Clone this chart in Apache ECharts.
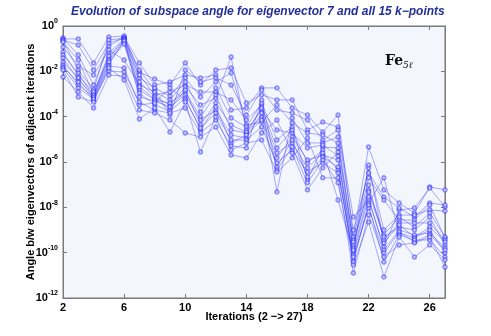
<!DOCTYPE html>
<html>
<head>
<meta charset="utf-8">
<title>Subspace angle evolution</title>
<script src="https://cdn.jsdelivr.net/npm/echarts@6/dist/echarts.min.js"></script>
<style>
  html, body { margin: 0; padding: 0; background: #fff; }
  #chart { width: 491px; height: 336px; }
</style>
</head>
<body>
<div id="chart"></div>
<script>
// iterations on the x axis
const iterations = [2, 3, 4, 5, 6, 7, 8, 9, 10, 11, 12, 13, 14, 15, 16, 17, 18, 19, 20, 21, 22, 23, 24, 25, 26, 27];

// log10 of the angle, one array per k-point
const kp1  = [-0.53, -1.28, -2.6, -0.88, -0.49, -1.63, -2.6, -2.47, -2.16, -2.29, -2.16, -3.71, -3.62, -2.73, -2.73, -3.62, -3.93, -4.68, -3.93, -9.31, -5.34, -7.23, -7.81, -8.25, -7.1, -7.23];
const kp2  = [-0.57, -0.57, -1.63, -0.49, -0.44, -2.03, -2.34, -2.6, -1.63, -2.6, -1.94, -1.85, -3.4, -3.04, -3.26, -3.26, -4.59, -4.24, -4.46, -8.43, -7.68, -9.75, -8.12, -8.03, -7.15, -7.98];
const kp3  = [-0.62, -0.84, -1.94, -0.75, -0.53, -1.94, -2.82, -3.93, -1.94, -2.47, -2.29, -2.6, -3.93, -2.82, -3.71, -3.84, -4.15, -5.03, -4.59, -9.0, -6.48, -7.54, -8.03, -8.43, -7.81, -7.9];
const kp4  = [-0.66, -1.94, -2.82, -0.62, -0.53, -2.29, -2.73, -3.09, -2.29, -3.13, -2.47, -2.07, -4.37, -4.24, -3.48, -4.28, -4.72, -4.81, -5.16, -9.44, -6.26, -9.0, -8.34, -8.34, -8.12, -8.16];
const kp5  = [-0.71, -1.5, -3.0, -1.19, -0.57, -2.16, -3.04, -2.91, -2.6, -2.91, -2.91, -3.26, -4.15, -3.48, -7.32, -4.06, -5.16, -5.16, -4.9, -9.66, -6.7, -7.68, -8.56, -8.56, -7.9, -9.35];
const kp6  = [-0.93, -1.76, -2.16, -1.06, -1.5, -2.6, -2.91, -3.26, -2.47, -3.79, -2.73, -4.06, -4.46, -3.4, -5.03, -4.46, -6.79, -5.34, -5.38, -9.53, -7.23, -9.22, -8.43, -8.87, -8.25, -9.31];
const kp7  = [-1.15, -2.21, -2.91, -1.41, -0.62, -2.47, -3.13, -3.48, -2.69, -3.48, -3.18, -1.37, -4.59, -3.71, -4.59, -4.72, -5.38, -5.25, -5.73, -9.79, -7.01, -9.44, -8.69, -8.69, -8.69, -9.44];
const kp8  = [-1.28, -2.07, -3.09, -1.32, -0.62, -2.82, -3.26, -3.4, -2.91, -4.01, -3.04, -4.59, -4.72, -3.62, -5.38, -4.59, -6.04, -5.47, -7.68, -9.97, -7.32, -9.31, -8.87, -9.0, -8.43, -9.66];
const kp9  = [-1.41, -2.38, -3.04, -1.5, -0.71, -2.69, -3.22, -3.66, -2.82, -4.37, -3.4, -4.37, -4.68, -4.01, -5.82, -4.9, -5.91, -5.69, -5.91, -9.88, -6.13, -9.57, -8.78, -9.31, -8.87, -9.53];
const kp10 = [-1.59, -2.29, -3.18, -1.68, -0.66, -3.13, -3.31, -3.57, -3.04, -4.15, -3.71, -4.81, -4.94, -3.84, -5.6, -5.16, -6.26, -5.6, -6.35, -10.1, -7.54, -9.88, -9.0, -9.22, -9.13, -9.79];
const kp11 = [-1.72, -2.6, -3.13, -1.59, -0.79, -2.96, -3.48, -3.75, -3.18, -4.59, -3.57, -5.16, -4.81, -4.15, -6.22, -5.03, -6.66, -5.78, -6.22, -10.32, -7.81, -6.7, -9.13, -9.35, -9.0, -10.01];
const kp12 = [-1.81, -2.47, -3.26, -1.76, -1.85, -3.48, -3.4, -2.73, -3.26, -4.5, -3.84, -5.03, -5.03, -4.46, -6.04, -5.47, -6.44, -6.04, -6.48, -10.19, -8.03, -10.01, -9.09, -9.53, -9.22, -9.88];
const kp13 = [-1.85, -2.73, -3.22, -1.99, -2.03, -3.35, -3.71, -3.84, -3.62, -4.72, -4.15, -5.29, -5.38, -3.26, -6.35, -5.34, -6.92, -5.91, -6.92, -10.41, -7.9, -10.41, -9.22, -9.44, -9.44, -10.19];
const kp14 = [-1.94, -3.13, -3.35, -1.85, -2.38, -4.1, -3.62, -4.68, -3.35, -5.56, -4.01, -5.47, -5.16, -5.03, -6.44, -5.82, -4.94, -6.7, -6.7, -10.9, -8.34, -10.19, -9.66, -9.57, -9.31, -10.63];
const kp15 = [-2.25, -2.91, -3.62, -2.16, -2.21, -3.71, -3.84, -4.15, -4.72, -4.9, -4.46, -5.69, -5.82, -4.72, -4.15, -5.6, -7.23, -6.26, -5.56, -10.54, -8.65, -11.07, -9.31, -10.19, -9.66, -10.32];

const kpoints = [kp1, kp2, kp3, kp4, kp5, kp6, kp7, kp8, kp9, kp10, kp11, kp12, kp13, kp14, kp15];

const chart = echarts.init(document.getElementById('chart'));

const lineBlue = 'rgba(35, 35, 255, 0.5)';
const axisGray = '#7a7a7a';

function powLabel(v) {
  const e = Math.round(Math.log10(v));
  return '{b|10}{e|' + (e === 0 ? '0' : '-' + Math.abs(e)) + '}';
}

const series = kpoints.map((arr, i) => ({
  name: 'k' + (i + 1),
  type: 'line',
  data: arr.map((e, j) => [iterations[j], Math.pow(10, e)]),
  symbol: 'emptyCircle',
  symbolSize: 3.5,
  lineStyle: { color: lineBlue, width: 0.75 },
  itemStyle: { color: lineBlue, borderColor: lineBlue, borderWidth: 0.7 },
  emphasis: { disabled: true },
  z: 3
}));

chart.setOption({
  animation: false,
  grid: {
    left: 63, right: 46, top: 26, bottom: 38,
    show: true,
    backgroundColor: '#f3f6fc',
    borderColor: axisGray,
    borderWidth: 1
  },
  xAxis: [{
    type: 'value',
    min: 2, max: 27, interval: 4,
    name: 'Iterations (2 \u2212> 27)',
    nameLocation: 'middle',
    nameGap: 13,
    nameMoveOverlap: false,
    nameTextStyle: { fontFamily: 'Liberation Sans', fontWeight: 'bold', fontSize: 11, color: '#000', verticalAlign: 'top' },
    axisLine: { lineStyle: { color: axisGray } },
    axisTick: { inside: true, length: 4, lineStyle: { color: axisGray } },
    axisLabel: { fontFamily: 'Liberation Sans', fontWeight: 'bold', fontSize: 11, color: '#000', margin: 4, showMaxLabel: false },
    splitLine: { show: false }
  }, {
    type: 'value',
    position: 'top',
    min: 2, max: 27, interval: 4,
    axisLine: { lineStyle: { color: axisGray } },
    axisTick: { inside: true, length: 4, lineStyle: { color: axisGray } },
    axisLabel: { show: false },
    splitLine: { show: false }
  }],
  yAxis: [{
    type: 'log',
    logBase: 10,
    min: 1e-12, max: 1,
    interval: 2,
    splitNumber: 6,
    name: 'Angle b/w eigenvectors of adjacent iterations',
    nameLocation: 'middle',
    nameGap: 27,
    nameMoveOverlap: false,
    nameTextStyle: { fontFamily: 'Liberation Sans', fontWeight: 'bold', fontSize: 11, color: '#000' },
    axisLine: { lineStyle: { color: axisGray } },
    axisTick: { inside: true, length: 4, lineStyle: { color: axisGray } },
    axisLabel: {
      margin: 5,
      formatter: powLabel,
      rich: {
        b: { fontFamily: 'Liberation Sans', fontWeight: 'bold', fontSize: 11, color: '#000', lineHeight: 16 },
        e: { fontFamily: 'Liberation Sans', fontWeight: 'bold', fontSize: 7, color: '#000', verticalAlign: 'top', lineHeight: 8 }
      }
    },
    minorTick: { show: false },
    splitLine: { show: false }
  }, {
    type: 'log',
    logBase: 10,
    position: 'right',
    min: 1e-12, max: 1,
    interval: 2,
    splitNumber: 6,
    axisLine: { lineStyle: { color: axisGray } },
    axisTick: { inside: true, length: 4, lineStyle: { color: axisGray } },
    axisLabel: { show: false },
    splitLine: { show: false }
  }],
  graphic: [{
    type: 'text',
    left: 254 - 183, top: 6,
    style: {
      text: 'Evolution of subspace angle for eigenvector 7 and all 15 k\u2212points',
      font: 'italic bold 12px "Liberation Sans"',
      fill: '#24309a'
    }
  }, {
    type: 'text',
    x: 385, y: 54,
    style: { text: 'Fe', font: 'bold 14px "DejaVu Serif"', fill: '#111' }
  }, {
    type: 'text',
    x: 403, y: 61,
    style: { text: '5\u2113', font: 'italic 9px "DejaVu Serif"', fill: '#111' }
  }],
  series: series
});
</script>
</body>
</html>
